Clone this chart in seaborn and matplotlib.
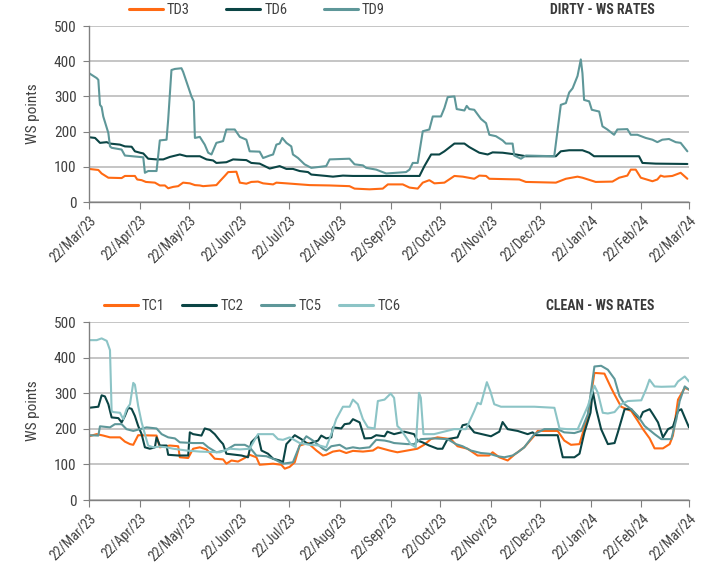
import numpy as np
import pandas as pd
import matplotlib
matplotlib.use("Agg")
import matplotlib.pyplot as plt
import matplotlib.dates as mdates
from matplotlib import font_manager
import seaborn as sns

START = "2023-03-22"

# ---------------- DIRTY (days since 22/Mar/23, WS points) ----------------
TD3_DAY = [0, 5.7, 7.7, 11.8, 19.9, 21.9, 28, 29.4, 32.1, 34.7, 40.2, 43.2, 46.3, 48.3, 51.4, 54.4, 57.4,
           61.5, 64.6, 67.6, 69.6, 77.7, 79.8, 82.8, 84.9, 89.9, 92, 96, 99, 103.1, 106.2, 112.3, 114.3,
           120.4, 134.6, 146.8, 158.9, 162, 171.1, 179.2, 182.3, 191.4, 195.5, 200.5, 203.6, 207.6, 210.7,
           216.8, 222.9, 228, 235, 238.1, 242.2, 244.2, 262.5, 266.5, 284.8, 290.9, 298, 301, 309.1, 319.3,
           323.4, 328.4, 330.5, 333.5, 336.6, 343.7, 346.7, 348.7, 350.8, 355.8, 360.9, 365]
TD3_WS = [94, 91, 81, 69, 68, 74, 74, 64, 62, 57, 55, 47, 47, 39, 43, 45, 55,
          53, 48, 47, 45, 48, 59, 74, 85, 86, 55, 52, 57, 58, 53, 50, 55,
          53, 48, 47, 45, 38, 36, 38, 50, 50, 41, 38, 55, 62, 53,
          55, 74, 72, 66, 75, 74, 66, 64, 57, 55, 66, 72, 69, 57, 58,
          69, 75, 92, 92, 69, 59, 64, 75, 72, 74, 83, 66]

TD6_DAY = [0, 3.7, 6.7, 10.8, 12.8, 18.9, 21.9, 26, 28, 31.1, 33.1, 36.1, 41.2, 45.3, 49.3, 55.4, 59.5,
           67.6, 71.7, 75.7, 77.7, 83.8, 87.9, 96, 99, 104.1, 107.2, 110.2, 116.3, 120.4, 124.4, 128.5,
           133.6, 135.6, 144.7, 148.8, 154.9, 161, 175.2, 183.3, 201.6, 204.6, 208.7, 213.7, 216.8,
           222.9, 229, 232, 238.1, 243.2, 246.2, 252.3, 260.4, 266.5, 284.8, 287.8, 292.9, 301, 305.1,
           308.1, 313.2, 335.5, 337.6, 345.7, 365]
TD6_WS = [184, 182, 168, 170, 166, 163, 158, 157, 144, 140, 138, 123, 121, 121, 128, 135, 130,
          130, 121, 118, 111, 113, 121, 119, 111, 109, 102, 95, 102, 94, 94, 88,
          85, 78, 74, 72, 75, 74, 74, 74, 74, 102, 135, 135, 144,
          166, 166, 156, 140, 135, 141, 140, 135, 130, 130, 144, 147, 147, 140,
          130, 130, 130, 111, 109, 108]

TD9_DAY = [0, 4.7, 5.7, 6.7, 7.7, 8.7, 11.8, 12.8, 13.8, 19.9, 21.9, 33.1, 34.1, 36.1, 41.2, 43.2, 47.3,
           48.3, 50.3, 52.4, 56.4, 57.4, 62.5, 63.9, 64.6, 67.6, 70.6, 72.7, 74.7, 77.7, 81.8, 83.8,
           88.9, 92, 96, 98, 104.1, 106.2, 110.2, 112.3, 114.3, 116.3, 117.9, 120.4, 123.4, 124.4,
           127.5, 131.5, 135.6, 144.7, 146.8, 158.9, 162, 167.1, 169.1, 175.2, 181.3, 193.4, 195.5,
           197.5, 200.5, 203.6, 207.6, 209.7, 214.7, 216.8, 218.8, 222.9, 224.3, 229, 230.4, 232, 235,
           239.1, 242.2, 244.2, 248.2, 252.3, 254.3, 258.4, 259.4, 263.5, 266.5, 283.8, 287.8, 290.9,
           292.9, 295, 298, 300, 301, 302, 305.1, 306.7, 311.2, 313.2, 316.2, 320.3, 322.3, 328.4,
           330.5, 334.5, 339.6, 343.7, 346.7, 349.7, 353.8, 357.9, 360.9, 365]
TD9_WS = [366, 352, 347, 276, 270, 243, 196, 158, 154, 149, 132, 127, 83, 88, 88, 175, 177,
          234, 375, 378, 380, 370, 300, 286, 182, 185, 163, 140, 135, 168, 173, 206,
          206, 185, 177, 144, 143, 125, 132, 135, 163, 166, 182, 168, 158, 135,
          125, 107, 97, 102, 121, 123, 107, 104, 97, 92, 81, 85, 92,
          111, 111, 201, 206, 243, 243, 267, 298, 300, 264, 260, 273, 264, 262,
          236, 224, 191, 187, 175, 166, 166, 132, 123, 132, 130, 276, 281,
          311, 323, 358, 405, 366, 290, 286, 262, 257, 215, 206, 191, 206, 207,
          191, 191, 182, 177, 170, 177, 179, 170, 168, 144]

# ---------------- CLEAN ----------------
TC1_DAY = [0, 4.7, 8.7, 12.8, 18.9, 21.9, 25, 27, 30, 41.2, 43.2, 49.3, 54.4, 55.4, 60.5, 63.5, 67.6,
           71.7, 76.7, 81.8, 83.8, 86.9, 90.9, 95, 98, 102.1, 104.1, 112.3, 117.3, 119.4, 122.4, 125.5,
           128.5, 133.6, 138.7, 142.7, 144.7, 148.8, 152.9, 156.9, 161, 167.1, 173.2, 176.2, 183.3,
           188.1, 194.2, 200.3, 204.4, 208.5, 212.6, 220.7, 224.8, 230.9, 237, 244.1, 246.2, 250.3,
           255.4, 259.4, 265.5, 271.7, 273.7, 285.9, 289.9, 294, 299.2, 304.3, 308.3, 314.4, 318.5,
           320.6, 324.6, 330.8, 334.8, 337.9, 342, 345, 350.1, 354.2, 356.2, 359.3, 363.4, 366]
TC1_WS = [179, 185, 181, 176, 176, 164, 157, 155, 182, 181, 148, 153, 151, 120, 118, 144, 148,
          142, 116, 114, 102, 111, 108, 118, 127, 120, 99, 102, 99, 88, 93, 106,
          153, 160, 139, 125, 127, 136, 139, 132, 138, 136, 139, 148, 139,
          134, 139, 144, 155, 171, 176, 171, 151, 144, 125, 125, 134, 120,
          111, 127, 148, 181, 194, 194, 167, 155, 157, 236, 357, 355, 315,
          296, 262, 250, 222, 199, 173, 145, 145, 157, 181, 282, 315, 310]

TC2_DAY = [0, 5.7, 7.7, 9.7, 11.8, 13.8, 17.9, 19.9, 21.9, 23.9, 26, 28, 30, 32.1, 34.1, 37.1, 40.2,
           41.2, 43.2, 47.3, 48.3, 54.4, 60.5, 61.5, 63.5, 68.6, 70.6, 73.7, 76.7, 79.8, 81.8, 83.8,
           93, 97, 99, 103.1, 105.2, 109.2, 112.3, 116.3, 118.3, 120.4, 125.5, 129.5, 133.6, 139.7,
           141.7, 144.7, 147.8, 148.8, 153.9, 155.9, 159, 161, 165.1, 168.1, 172.2, 175.2, 180.3,
           182, 186.1, 192.2, 198.3, 200.3, 203.4, 207.5, 212.6, 215.6, 218.7, 224.8, 227.9, 230.9,
           235, 245.2, 250.3, 252.3, 255.4, 261.5, 267.6, 270.6, 272.7, 285.9, 289, 296.1, 299.2,
           302.2, 305.9, 307.3, 309.4, 312.4, 316.5, 320.6, 322.6, 326.7, 330.8, 335.9, 337.9, 342,
           344, 347.1, 350.1, 353.2, 356.2, 359.3, 361.3, 363.4, 366]
TC2_WS = [259, 262, 294, 291, 269, 232, 230, 218, 236, 259, 256, 236, 208, 185, 148, 144, 148,
          176, 153, 153, 127, 125, 125, 190, 185, 181, 201, 197, 185, 167, 157, 130,
          125, 120, 162, 181, 139, 130, 116, 111, 106, 157, 182, 171, 157, 167,
          181, 173, 176, 204, 201, 213, 215, 227, 218, 173, 174, 182, 179,
          192, 185, 192, 185, 167, 162, 153, 144, 144, 171, 176, 210, 213,
          190, 179, 192, 219, 199, 194, 185, 190, 182, 182, 120, 120, 130,
          190, 245, 306, 255, 199, 157, 160, 190, 255, 255, 227, 247, 255,
          241, 218, 176, 199, 206, 250, 255, 232, 204]

TC5_DAY = [0, 5.7, 6.7, 12.8, 15.8, 19.9, 22.9, 27, 35.1, 41.2, 44.3, 48.3, 52.4, 55.4, 63.5, 69.6,
           72.7, 77.7, 82.8, 84.9, 88.9, 95, 98, 102.1, 108.2, 113.3, 118.3, 124.4, 128.5, 132.6,
           136.6, 142.7, 144.7, 147.8, 152.9, 156.9, 161, 165.1, 171.1, 175.2, 180.3, 183.3, 186.1,
           194.2, 198.3, 202.4, 210.5, 218.7, 223.8, 227.9, 232.9, 239, 244.1, 249.2, 253.3, 258.4,
           261.5, 265.5, 271.7, 277.8, 285.9, 289.9, 296.1, 300.2, 304.3, 308.3, 312.4, 316.5, 320.6,
           323.6, 326.7, 330.8, 334.8, 338.9, 345, 349.1, 355.2, 358.3, 360.3, 363.4, 366]
TC5_WS = [182, 181, 207, 204, 213, 213, 199, 194, 204, 201, 185, 176, 173, 162, 160, 160,
          148, 134, 139, 144, 155, 155, 148, 125, 123, 114, 102, 106, 153, 179,
          167, 144, 139, 151, 155, 144, 148, 145, 148, 169, 167, 164, 160,
          157, 157, 171, 173, 171, 157, 151, 139, 132, 130, 123, 120, 125,
          134, 148, 185, 199, 199, 190, 188, 194, 241, 375, 377, 366, 340,
          292, 269, 255, 236, 208, 185, 171, 171, 227, 278, 319, 310]

TC6_DAY = [0, 4.7, 7.7, 10.8, 12.8, 13.8, 14.8, 18.9, 20.9, 22.9, 25, 27, 28, 30, 32.1, 34.1, 36.1,
           39.2, 43.2, 47.3, 51.4, 59.5, 67.6, 79.8, 85.9, 92, 98, 103.1, 112.3, 115.3, 118.3, 122.4,
           128.5, 134.6, 140.7, 144.7, 147.8, 150.8, 154.9, 159, 161, 164, 167.1, 170.1, 174.2, 176.2,
           180.3, 184, 186.1, 188.1, 190.1, 196.2, 199.3, 201.3, 202.4, 204, 210.5, 222.7, 229.9, 235,
           237, 239, 242.7, 244.8, 247.2, 251.3, 271.7, 283.9, 287, 292, 298.1, 304.3, 308.3, 310.4,
           313.4, 316.5, 320.6, 324.6, 328.7, 336.9, 339.9, 341.9, 345, 349.1, 357.3, 359.3, 363.4, 366]
TC6_WS = [449, 449, 454, 447, 421, 250, 247, 245, 227, 255, 269, 329, 324, 264, 218, 185, 153,
          148, 150, 148, 144, 139, 136, 134, 144, 142, 144, 185, 185, 171, 169, 176,
          160, 155, 153, 148, 185, 227, 262, 262, 282, 269, 227, 204, 201, 278,
          282, 299, 287, 208, 199, 157, 148, 301, 287, 185, 185, 199, 199, 250,
          273, 269, 331, 306, 269, 262, 262, 259, 201, 199, 199, 264, 321, 301,
          245, 243, 247, 269, 278, 280, 312, 338, 319, 318, 319, 333, 347, 333]

DIRTY_SERIES = {"TD3": (TD3_DAY, TD3_WS), "TD6": (TD6_DAY, TD6_WS), "TD9": (TD9_DAY, TD9_WS)}
CLEAN_SERIES = {"TC1": (TC1_DAY, TC1_WS), "TC2": (TC2_DAY, TC2_WS),
                "TC5": (TC5_DAY, TC5_WS), "TC6": (TC6_DAY, TC6_WS)}
DIRTY_COLORS = {"TD3": "#FF6A13", "TD6": "#0B4545", "TD9": "#5E9799"}
CLEAN_COLORS = {"TC1": "#FF6A13", "TC2": "#0B4545", "TC5": "#5E9799", "TC6": "#8CC4C6"}
TICK_DATES = pd.date_range("2023-03-01", "2024-03-01", freq="MS") + pd.Timedelta(days=21)


def to_long(series):
    frames = []
    for name, (days, vals) in series.items():
        d = pd.Timestamp(START) + pd.to_timedelta(np.array(days, dtype=float), unit="D")
        frames.append(pd.DataFrame({"date": d, "ws": vals, "route": name}))
    return pd.concat(frames, ignore_index=True)


sns.set_style("white")
names = {f.name for f in font_manager.fontManager.ttflist}
base = "Liberation Sans"
for cand in ["Liberation Sans Narrow", "Roboto Condensed", "Open Sans Condensed",
             "Noto Sans Condensed", "DejaVu Sans Condensed", "Liberation Sans"]:
    if cand in names:
        base = cand
        break
plt.rcParams["font.family"] = [base, "DejaVu Sans"]
plt.rcParams["font.stretch"] = "condensed"

TXT = "#404040"
GRID = "#C0C0C0"

fig = plt.figure(figsize=(7.06, 5.73), dpi=100)
ax1 = fig.add_axes([89 / 706, 1 - 202 / 573, 600 / 706, 176 / 573])
ax2 = fig.add_axes([89 / 706, 1 - 500 / 573, 600 / 706, 178 / 573])


def style(ax, df, palette, title, leg_x, ncol, colsp):
    sns.lineplot(data=df, x="date", y="ws", hue="route", palette=palette, ax=ax,
                 linewidth=1.5, estimator=None, sort=False)
    ax.set_xlim(pd.Timestamp("2023-03-22"), pd.Timestamp("2024-03-22"))
    ax.set_ylim(0, 500)
    ax.set_yticks([0, 100, 200, 300, 400, 500])
    ax.yaxis.grid(True, color=GRID, linewidth=1.3)
    ax.xaxis.grid(False)
    ax.set_axisbelow(True)
    for s in ["top", "right"]:
        ax.spines[s].set_visible(False)
    for s in ["left", "bottom"]:
        ax.spines[s].set_color("#808080")
        ax.spines[s].set_linewidth(1.0)
    ax.set_xticks(TICK_DATES)
    ax.xaxis.set_major_formatter(mdates.DateFormatter("%d/%b/%y"))
    ax.tick_params(axis="x", which="major", length=5, color="#808080", direction="out",
                   labelsize=10, labelcolor=TXT, bottom=True, pad=3)
    ax.tick_params(axis="y", length=4, color="#808080", direction="out", labelsize=11,
                   labelcolor=TXT, left=True, pad=5)
    for lbl in ax.get_xticklabels():
        lbl.set_rotation(45)
        lbl.set_ha("right")
        lbl.set_rotation_mode("anchor")
    ax.set_xlabel("")
    ax.set_ylabel("WS points", fontsize=11, color=TXT, labelpad=10)
    leg = ax.legend(loc="center", bbox_to_anchor=(leg_x, 1.09), ncol=ncol, frameon=False,
                    fontsize=10.5, handlelength=2.3, handletextpad=0.3, columnspacing=colsp)
    for t in leg.get_texts():
        t.set_color(TXT)
    for h in leg.get_lines():
        h.set_linewidth(2.2)
    ax.text(0.943, 1.09, title, transform=ax.transAxes, ha="right", va="center",
            fontsize=10, fontweight="bold", color="#3A3A3A")


style(ax1, to_long(DIRTY_SERIES), DIRTY_COLORS, "DIRTY - WS RATES", 0.28, 3, 2.5)
style(ax2, to_long(CLEAN_SERIES), CLEAN_COLORS, "CLEAN - WS RATES", 0.272, 4, 1.2)

fig.savefig("out.png", dpi=100)
